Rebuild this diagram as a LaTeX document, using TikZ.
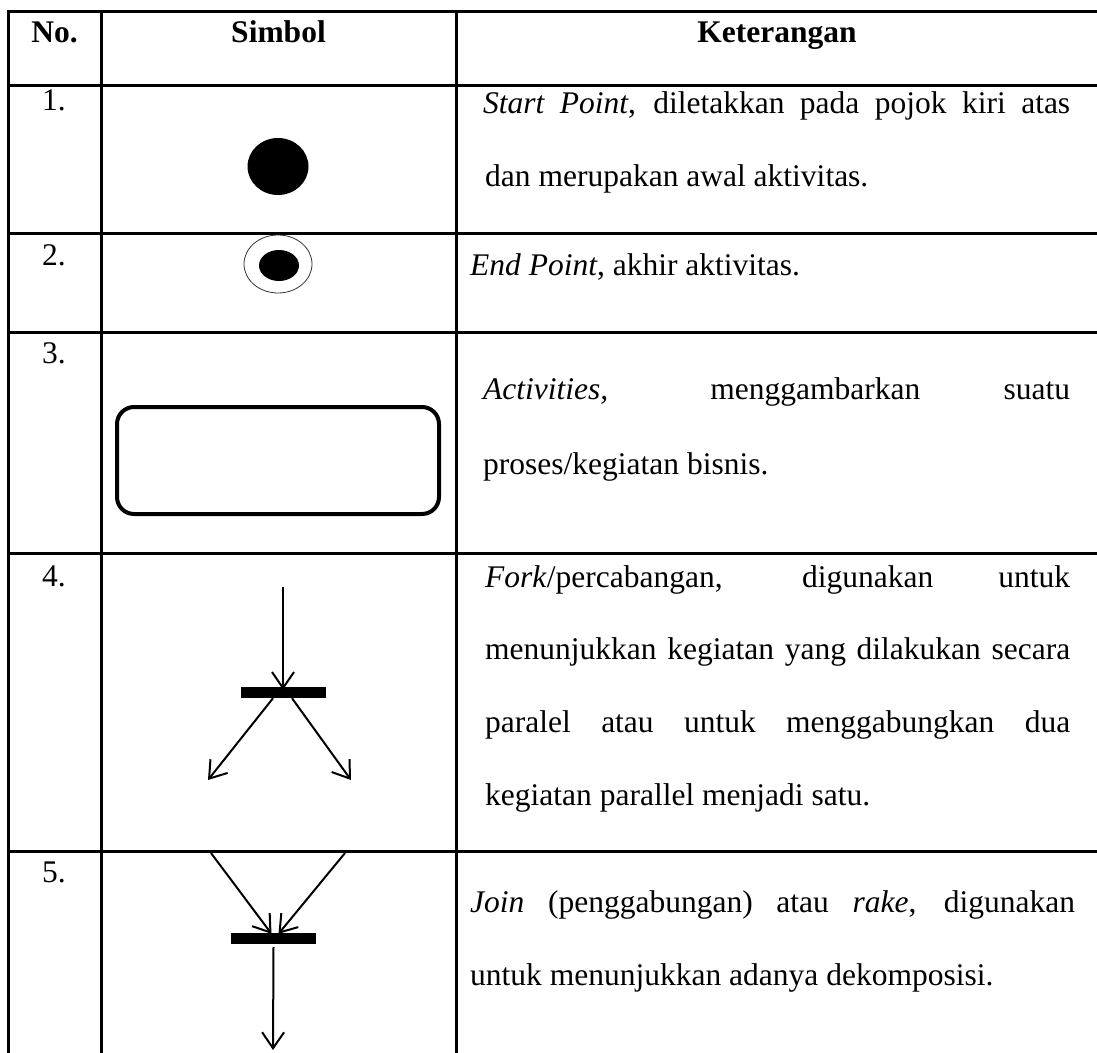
\documentclass[tikz,border=0pt]{standalone}
\usepackage{fontspec}
\setmainfont{Liberation Serif}
\usetikzlibrary{arrows.meta,shapes.geometric}
\begin{document}
\begin{tikzpicture}[x=1pt,y=-1pt,
  grid/.style={line width=3pt,line cap=rect},
  txt/.style={anchor=base west,inner sep=0pt,font=\fontsize{31.5}{38}\selectfont},
  hdr/.style={anchor=base,inner sep=0pt,font=\fontsize{31.5}{38}\selectfont\bfseries},
  num/.style={anchor=base,inner sep=0pt,font=\fontsize{31.5}{38}\selectfont},
  bar/.style={fill=black,draw=none,minimum width=85pt,minimum height=11pt,inner sep=0pt},
  conn/.style={line width=2pt,-{Straight Barb[length=16pt,width=22pt,line width=2pt]}}]
\useasboundingbox (0,0) rectangle (1097,1052);
% table grid
\foreach \yy in {11,85,233,332,553,851} \draw[grid] (8,\yy) -- (1100,\yy);
\foreach \xx in {8,101,456} \draw[grid] (\xx,11) -- (\xx,1060);
% header
\node[hdr] (hno) at (54.5,42) {No.};
\node[hdr] (hsim) at (278.5,42) {Simbol};
\node[hdr] (hket) at (777,42) {Keterangan};
% numbers
\node[num] (n1) at (54,110) {1.};
\node[num] (n2) at (54,265) {2.};
\node[num] (n3) at (54,363) {3.};
\node[num] (n4) at (54,586) {4.};
\node[num] (n5) at (54,882) {5.};
% row 1
\node[fill=black,draw=none,shape=ellipse,minimum width=61pt,minimum height=57pt,inner sep=0pt] (start) at (278,166.5) {};
\node[txt] (t1a) at (483,113) {\makebox[587pt][s]{\textit{Start Point}, diletakkan pada pojok kiri atas}};
\node[txt] (t1b) at (485,186) {dan merupakan awal aktivitas.};
% row 2
\node[draw=black!80,line width=0.8pt,shape=ellipse,minimum width=68pt,minimum height=58pt,inner sep=0pt] (endo) at (278,264) {};
\node[fill=black,shape=ellipse,minimum width=40pt,minimum height=31pt,inner sep=0pt] (endi) at (279,265.5) {};
\node[txt] (t2) at (470,275) {\textit{End Point}, akhir aktivitas.};
% row 3
\node[draw,line width=4pt,rounded corners=17pt,minimum width=322pt,minimum height=107pt,inner sep=0pt] (act) at (278,460.5) {};
\node[txt] (t3a) at (483,399) {\makebox[587pt][s]{\textit{Activities,} menggambarkan suatu}};
\node[txt] (t3b) at (483,474) {proses/kegiatan bisnis.};
% row 4 fork
\coordinate (ftop) at (283,587);
\node[bar] (fbar) at (283,692.5) {};
\coordinate (fl) at (208,780);
\coordinate (fr) at (351,780);
\draw[conn] (ftop) -- ([yshift=-3pt]fbar.north);
\draw[conn] ([xshift=-10pt]fbar.south) -- (fl);
\draw[conn] ([xshift=9pt]fbar.south) -- (fr);
\node[txt] (t4a) at (485,587) {\makebox[585pt][s]{\textit{Fork}/percabangan, digunakan untuk}};
\node[txt] (t4b) at (485,659) {\makebox[585pt][s]{menunjukkan kegiatan yang dilakukan secara}};
\node[txt] (t4c) at (485,732) {\makebox[585pt][s]{paralel atau untuk menggabungkan dua}};
\node[txt] (t4d) at (485,805) {kegiatan parallel menjadi satu.};
% row 5 join
\coordinate (jl) at (211,853);
\coordinate (jr) at (345,853);
\node[bar] (jbar) at (273.5,938.5) {};
\coordinate (jbot) at (273,1050);
\draw[conn] (jl) -- ([xshift=-2pt,yshift=-1pt]jbar.north);
\draw[conn] (jr) -- ([xshift=5pt,yshift=-1pt]jbar.north);
\draw[conn] ([yshift=-3pt]jbar.south) -- (jbot);
\node[txt] (t5a) at (470,912) {\makebox[605pt][s]{\textit{Join} (penggabungan) atau \textit{rake}, digunakan}};
\node[txt] (t5b) at (470,985) {untuk menunjukkan adanya dekomposisi.};
\end{tikzpicture}
\end{document}
